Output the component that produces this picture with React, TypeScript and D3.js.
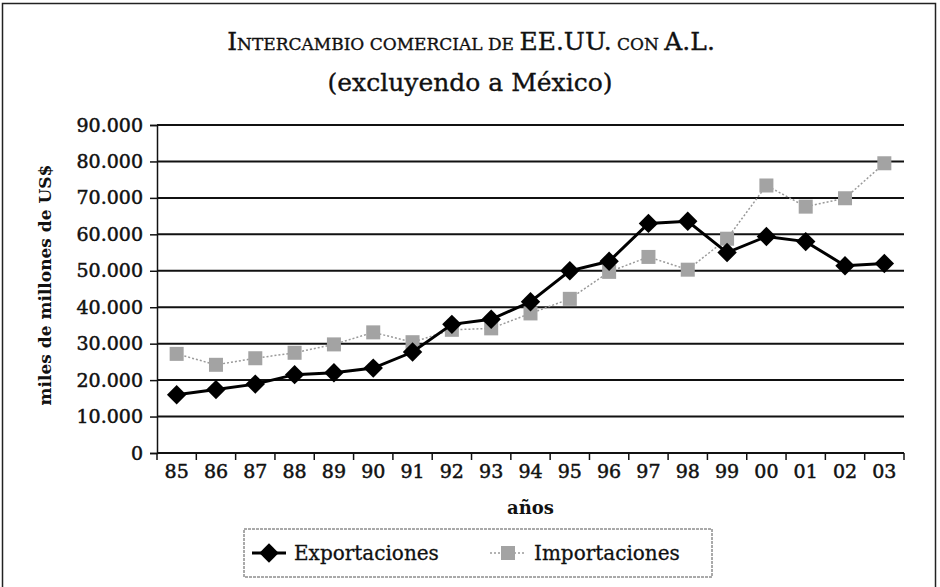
import { useEffect, useRef } from 'react'
import * as d3 from 'd3'

// data (millones de US$)
const years = ['85', '86', '87', '88', '89', '90', '91', '92', '93', '94', '95', '96', '97', '98', '99', '00', '01', '02', '03']
const exportaciones = [16000, 17400, 18900, 21500, 22000, 23300, 27700, 35300, 36700, 41500, 50000, 52600, 63000, 63600, 55000, 59400, 58000, 51400, 52000]
const importaciones = [27200, 24200, 26000, 27500, 29800, 33100, 30400, 33800, 34200, 38300, 42300, 49700, 53800, 50300, 58800, 73400, 67600, 69900, 79500]
const yTicks = [0, 10000, 20000, 30000, 40000, 50000, 60000, 70000, 80000, 90000]

const FONT = '"DejaVu Serif", serif'

export default function App() {
  const svgRef = useRef<SVGSVGElement>(null)

  useEffect(() => {
    if (!svgRef.current) return
    const svg = d3.select(svgRef.current)
    svg.selectAll('*').remove()

    const W = 940
    const H = 587
    const margin = { top: 125, right: 36, bottom: 134, left: 157 }
    const plotW = W - margin.left - margin.right
    const plotH = H - margin.top - margin.bottom

    svg.attr('width', W).attr('height', H).style('background', '#fff')

    // outer frame
    svg.append('rect')
      .attr('x', 2.5).attr('y', 3.5)
      .attr('width', 933).attr('height', 600)
      .attr('fill', 'none').attr('stroke', '#222').attr('stroke-width', 1.5)

    // title
    const title = svg.append('text')
      .attr('x', W / 2 + 1).attr('y', 50)
      .attr('text-anchor', 'middle')
      .attr('font-family', FONT)
      .attr('fill', '#111')
      .attr('stroke', '#111').attr('stroke-width', 0.35)
    const parts: [string, number][] = [
      ['I', 25], ['NTERCAMBIO COMERCIAL DE ', 17], ['EE.UU.', 25], [' CON ', 17], ['A.L.', 25],
    ]
    parts.forEach(([t, s]) => title.append('tspan').attr('font-size', s).text(t))

    svg.append('text')
      .attr('x', W / 2).attr('y', 91)
      .attr('text-anchor', 'middle')
      .attr('font-family', FONT)
      .attr('font-size', 25)
      .attr('fill', '#111')
      .attr('stroke', '#111').attr('stroke-width', 0.35)
      .text('(excluyendo a México)')

    const g = svg.append('g').attr('transform', `translate(${margin.left},${margin.top})`)

    const x = d3.scaleBand().domain(years).range([0, plotW]).padding(0)
    const y = d3.scaleLinear().domain([0, 90000]).range([plotH, 0])
    const cx = (d: string) => (x(d) ?? 0) + x.bandwidth() / 2

    // horizontal gridlines
    g.append('g')
      .selectAll('line')
      .data(yTicks.filter(t => t > 0))
      .enter()
      .append('line')
      .attr('x1', 0).attr('x2', plotW)
      .attr('y1', d => y(d)).attr('y2', d => y(d))
      .attr('stroke', '#111').attr('stroke-width', 2)

    // y axis
    const fmt = (v: number) => (v === 0 ? '0' : d3.format(',')(v).replace(/,/g, '.'))
    const yAxis = g.append('g')
      .call(d3.axisLeft(y).tickValues(yTicks).tickSize(7).tickPadding(7).tickFormat(d => fmt(+d)))
    yAxis.select('.domain').attr('stroke', '#111').attr('stroke-width', 1.5)
    yAxis.selectAll('.tick line').attr('stroke', '#111').attr('stroke-width', 1.5)
    yAxis.selectAll('text')
      .attr('font-family', FONT)
      .attr('font-size', 19)
      .attr('fill', '#111')
      .attr('stroke', '#111').attr('stroke-width', 0.5)

    // x axis (ticks between categories)
    const xAxisG = g.append('g').attr('transform', `translate(0,${plotH})`)
    xAxisG.append('line')
      .attr('x1', 0).attr('x2', plotW)
      .attr('stroke', '#111').attr('stroke-width', 2)
    xAxisG.selectAll('.tk')
      .data(years.concat(['end']))
      .enter()
      .append('line')
      .attr('x1', (d, i) => i < years.length ? (x(d) ?? 0) : plotW)
      .attr('x2', (d, i) => i < years.length ? (x(d) ?? 0) : plotW)
      .attr('y1', 0).attr('y2', 7)
      .attr('stroke', '#111').attr('stroke-width', 1.5)
    xAxisG.selectAll('.lbl')
      .data(years)
      .enter()
      .append('text')
      .attr('x', d => cx(d))
      .attr('y', 25)
      .attr('text-anchor', 'middle')
      .attr('font-family', FONT)
      .attr('font-size', 19)
      .attr('fill', '#111')
      .attr('stroke', '#111').attr('stroke-width', 0.5)
      .text(d => d)

    // axis titles
    svg.append('text')
      .attr('transform', `translate(51,${margin.top + plotH / 2 - 4}) rotate(-90)`)
      .attr('text-anchor', 'middle')
      .attr('font-family', FONT)
      .attr('font-weight', 'bold')
      .attr('font-size', 17)
      .attr('fill', '#111')
      .text('miles de millones de US$')

    svg.append('text')
      .attr('x', margin.left + plotW / 2)
      .attr('y', 514)
      .attr('text-anchor', 'middle')
      .attr('font-family', FONT)
      .attr('font-weight', 'bold')
      .attr('font-size', 18)
      .attr('fill', '#111')
      .text('años')

    const line = d3.line<number>()
      .x((_, i) => cx(years[i]))
      .y(d => y(d))

    // importaciones: thin dotted grey with squares
    g.append('path')
      .datum(importaciones)
      .attr('d', line)
      .attr('fill', 'none')
      .attr('stroke', '#9a9a9a')
      .attr('stroke-width', 1.5)
      .attr('stroke-dasharray', '2,2')
    g.selectAll('.imp')
      .data(importaciones)
      .enter()
      .append('rect')
      .attr('x', (_, i) => cx(years[i]) - 7)
      .attr('y', d => y(d) - 7)
      .attr('width', 14).attr('height', 14)
      .attr('fill', '#a3a3a3')

    // exportaciones: thick black with diamonds
    g.append('path')
      .datum(exportaciones)
      .attr('d', line)
      .attr('fill', 'none')
      .attr('stroke', '#000')
      .attr('stroke-width', 3)
    const diamond = d3.symbol().type(d3.symbolDiamond2).size(240)
    g.selectAll('.exp')
      .data(exportaciones)
      .enter()
      .append('path')
      .attr('d', diamond)
      .attr('transform', (d, i) => `translate(${cx(years[i])},${y(d)})`)
      .attr('fill', '#000')

    // legend
    const leg = svg.append('g').attr('transform', 'translate(244,529)')
    leg.append('rect')
      .attr('x', 0).attr('y', 0)
      .attr('width', 468).attr('height', 48)
      .attr('fill', '#fff')
      .attr('stroke', '#555').attr('stroke-width', 1)
      .attr('stroke-dasharray', '3,1')
    leg.append('line')
      .attr('x1', 8).attr('x2', 42).attr('y1', 24).attr('y2', 24)
      .attr('stroke', '#000').attr('stroke-width', 3)
    leg.append('path')
      .attr('d', diamond)
      .attr('transform', 'translate(25,24)')
      .attr('fill', '#000')
    leg.append('text')
      .attr('x', 50).attr('y', 31)
      .attr('font-family', FONT).attr('font-size', 20).attr('fill', '#111')
      .attr('stroke', '#111').attr('stroke-width', 0.3)
      .text('Exportaciones')
    leg.append('line')
      .attr('x1', 246).attr('x2', 282).attr('y1', 24).attr('y2', 24)
      .attr('stroke', '#9a9a9a').attr('stroke-width', 1.5)
      .attr('stroke-dasharray', '2,2')
    leg.append('rect')
      .attr('x', 257).attr('y', 17)
      .attr('width', 14).attr('height', 14)
      .attr('fill', '#a3a3a3')
    leg.append('text')
      .attr('x', 290).attr('y', 31)
      .attr('font-family', FONT).attr('font-size', 20).attr('fill', '#111')
      .attr('stroke', '#111').attr('stroke-width', 0.3)
      .text('Importaciones')
  }, [])

  return (
    <div style={{ position: 'absolute', left: 0, top: 0 }}>
      <svg ref={svgRef}></svg>
    </div>
  )
}
